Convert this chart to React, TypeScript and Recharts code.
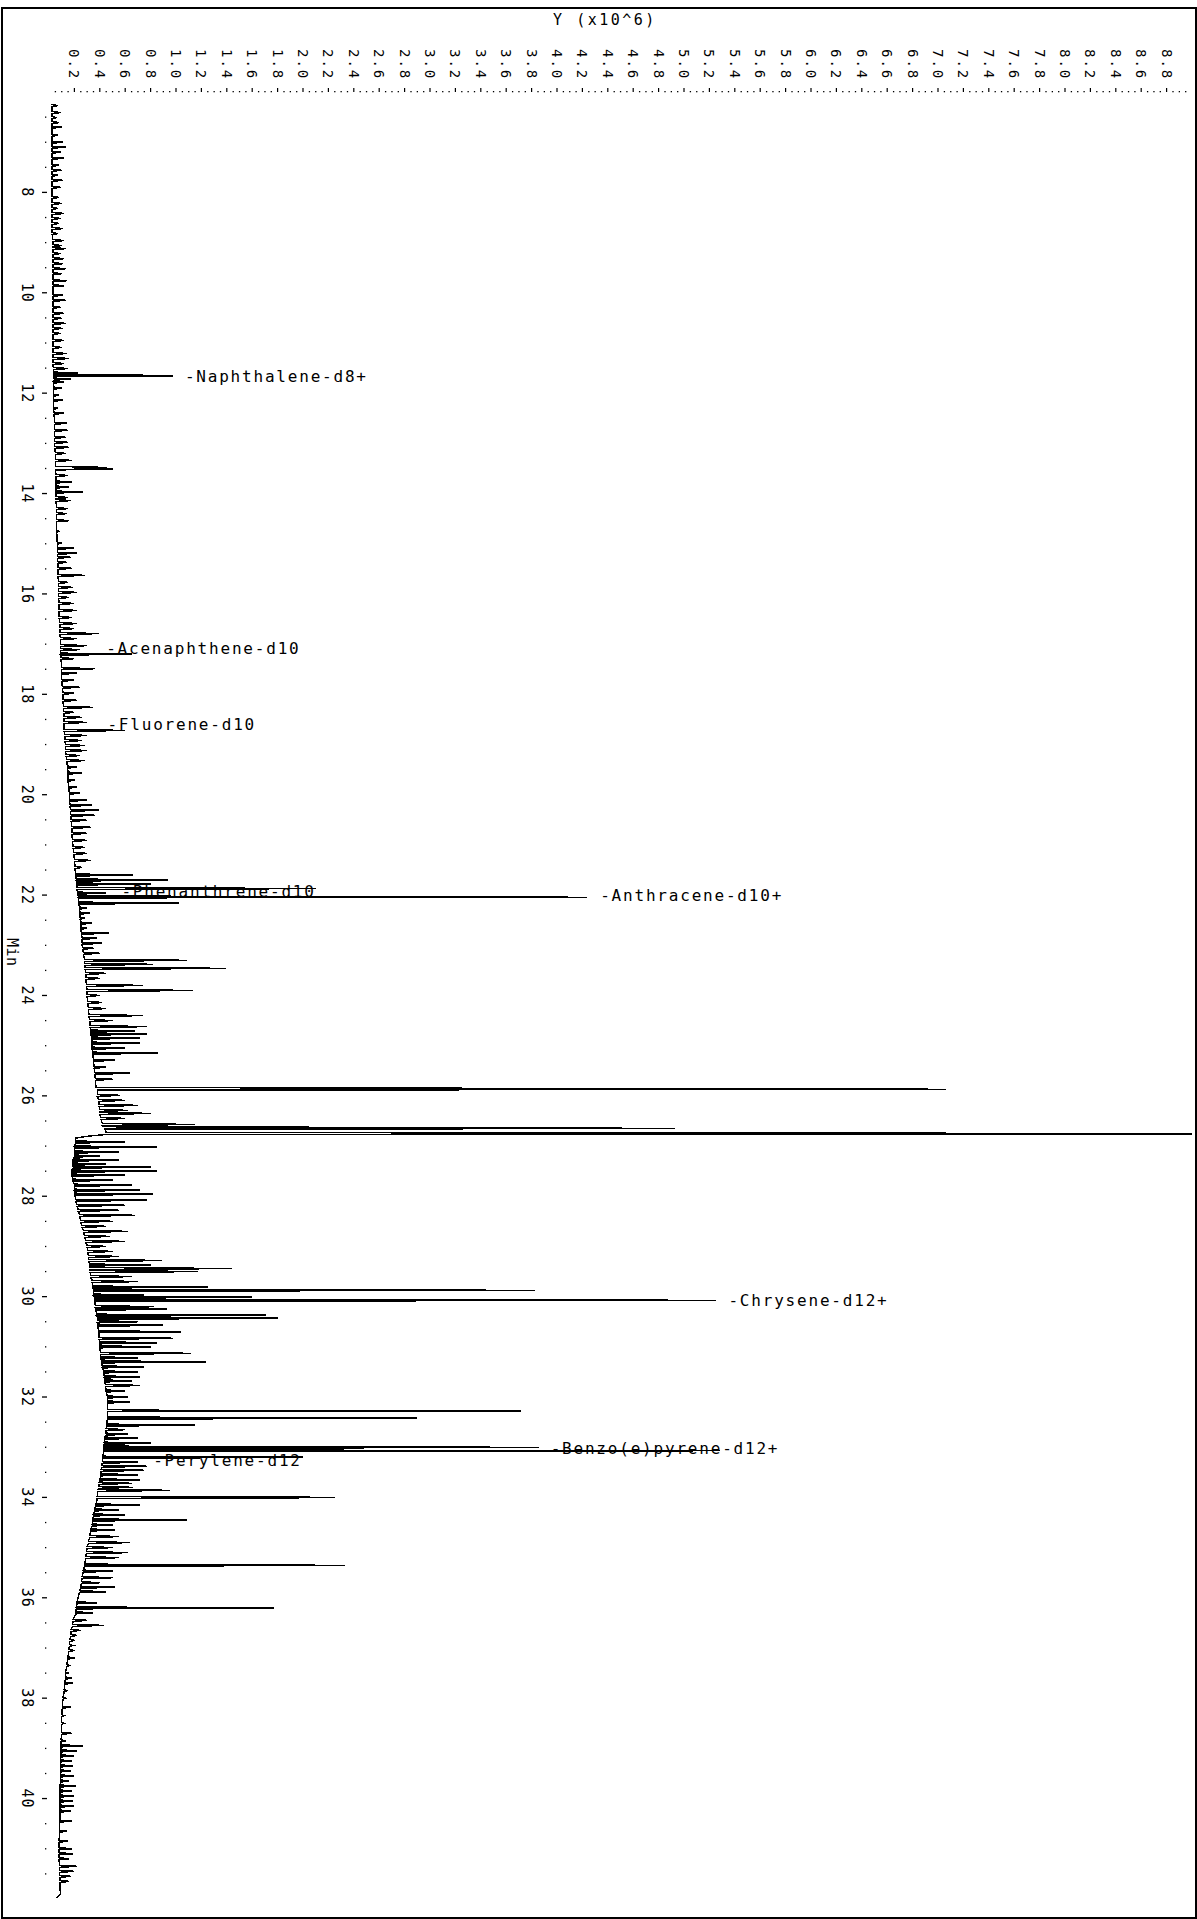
import { LineChart, Line, XAxis, YAxis, ReferenceDot } from "recharts";

// Chromatogram drawn sideways: retention time (Min) runs down, abundance (Y x10^6) runs across.
// Each pair is [minute, abundance x10^6].

const earlyTrace: [number, number][] = [
  [6.23, 0.025],
  [6.25, 0.025], [6.27, 0.07], [6.29, 0.025],
  [6.39, 0.025], [6.41, 0.09], [6.43, 0.025],
  [6.49, 0.025], [6.51, 0.06], [6.53, 0.025],
  [6.59, 0.025], [6.61, 0.08], [6.63, 0.025],
  [6.68, 0.025], [6.7, 0.1], [6.72, 0.025],
  [6.84, 0.025], [6.86, 0.07], [6.88, 0.025],
  [6.98, 0.025], [7.0, 0.11], [7.02, 0.025],
  [7.08, 0.025], [7.1, 0.13], [7.12, 0.025],
  [7.18, 0.025], [7.2, 0.09], [7.22, 0.025],
  [7.3, 0.025], [7.32, 0.12], [7.34, 0.025],
  [7.44, 0.025], [7.46, 0.08], [7.48, 0.025],
  [7.54, 0.025], [7.56, 0.1], [7.58, 0.025],
  [7.64, 0.025], [7.66, 0.07], [7.68, 0.025],
  [7.74, 0.025], [7.76, 0.11], [7.78, 0.025],
  [7.88, 0.025], [7.9, 0.09], [7.92, 0.025],
  [8.08, 0.025], [8.1, 0.08], [8.12, 0.025],
  [8.2, 0.025], [8.22, 0.1], [8.24, 0.025],
  [8.3, 0.025], [8.32, 0.07], [8.34, 0.025],
  [8.4, 0.025], [8.42, 0.12], [8.44, 0.025],
  [8.5, 0.025], [8.52, 0.09], [8.54, 0.025],
  [8.6, 0.025], [8.62, 0.08], [8.64, 0.025],
  [8.7, 0.025], [8.72, 0.11], [8.74, 0.025],
  [8.8, 0.025], [8.82, 0.07], [8.84, 0.025],
  [8.94, 0.03], [8.96, 0.12], [8.98, 0.03],
  [9.04, 0.03], [9.06, 0.1], [9.08, 0.03],
  [9.1, 0.03], [9.12, 0.13], [9.14, 0.03],
  [9.2, 0.03], [9.22, 0.09], [9.24, 0.03],
  [9.3, 0.03], [9.32, 0.12], [9.34, 0.03],
  [9.4, 0.03], [9.42, 0.11], [9.44, 0.03],
  [9.5, 0.03], [9.52, 0.13], [9.54, 0.03],
  [9.6, 0.03], [9.62, 0.1], [9.64, 0.03],
  [9.74, 0.03], [9.76, 0.14], [9.78, 0.03],
  [9.84, 0.03], [9.86, 0.12], [9.88, 0.03],
  [10.03, 0.03], [10.05, 0.11], [10.07, 0.03],
  [10.13, 0.03], [10.15, 0.13], [10.17, 0.03],
  [10.27, 0.03], [10.29, 0.09], [10.31, 0.03],
  [10.39, 0.03], [10.41, 0.12], [10.43, 0.03],
  [10.49, 0.03], [10.51, 0.1], [10.53, 0.03],
  [10.59, 0.03], [10.61, 0.13], [10.63, 0.03],
  [10.69, 0.03], [10.71, 0.11], [10.73, 0.03],
  [10.79, 0.03], [10.81, 0.09], [10.83, 0.03],
  [10.93, 0.03], [10.95, 0.12], [10.97, 0.03],
  [11.07, 0.03], [11.09, 0.1], [11.11, 0.03],
  [11.19, 0.03], [11.21, 0.14], [11.23, 0.03],
  [11.29, 0.03], [11.31, 0.16], [11.33, 0.03],
  [11.39, 0.03], [11.41, 0.12], [11.43, 0.03],
  [11.49, 0.035], [11.51, 0.15], [11.53, 0.035],
  [11.58, 0.035], [11.6, 0.23], [11.62, 0.035],
  [11.635, 0.035], [11.645, 0.87], [11.655, 0.98], [11.665, 0.04],
  [11.7, 0.04], [11.72, 0.17], [11.74, 0.04],
];

const lowBoilerTrace: [number, number][] = [
  [11.76, 0.035], [11.78, 0.12], [11.8, 0.035],
  [11.88, 0.035], [11.9, 0.1], [11.92, 0.035],
  [12.02, 0.035], [12.04, 0.08], [12.06, 0.035],
  [12.12, 0.035], [12.14, 0.11], [12.16, 0.035],
  [12.28, 0.035], [12.3, 0.07], [12.32, 0.035],
  [12.38, 0.04], [12.4, 0.12], [12.42, 0.04],
  [12.58, 0.045], [12.6, 0.14], [12.62, 0.045],
  [12.72, 0.045], [12.74, 0.15], [12.76, 0.045],
  [12.86, 0.045], [12.88, 0.13], [12.9, 0.045],
  [12.96, 0.045], [12.98, 0.15], [13.0, 0.045],
  [13.06, 0.045], [13.08, 0.16], [13.1, 0.045],
  [13.18, 0.05], [13.2, 0.13], [13.22, 0.05],
  [13.32, 0.05], [13.34, 0.18], [13.36, 0.05],
  [13.46, 0.05], [13.48, 0.46], [13.495, 0.2], [13.51, 0.5], [13.53, 0.05],
  [13.62, 0.055], [13.64, 0.15], [13.66, 0.055],
  [13.75, 0.055], [13.77, 0.18], [13.79, 0.055],
  [13.85, 0.055], [13.87, 0.16], [13.89, 0.055],
  [13.95, 0.055], [13.97, 0.27], [13.99, 0.055],
  [14.06, 0.055], [14.08, 0.15], [14.1, 0.055],
  [14.12, 0.055], [14.14, 0.17], [14.16, 0.055],
  [14.28, 0.06], [14.3, 0.15], [14.32, 0.06],
  [14.38, 0.06], [14.4, 0.14], [14.42, 0.06],
  [14.52, 0.06], [14.54, 0.16], [14.56, 0.06],
  [14.73, 0.06], [14.75, 0.08], [14.77, 0.06],
  [14.97, 0.065], [14.99, 0.1], [15.01, 0.065],
  [15.07, 0.065], [15.09, 0.2], [15.11, 0.065],
  [15.17, 0.065], [15.19, 0.22], [15.21, 0.065],
  [15.25, 0.065], [15.27, 0.17], [15.29, 0.065],
  [15.35, 0.07], [15.37, 0.14], [15.39, 0.07],
  [15.47, 0.07], [15.49, 0.18], [15.51, 0.07],
  [15.61, 0.07], [15.63, 0.28], [15.65, 0.07],
  [15.75, 0.075], [15.77, 0.15], [15.79, 0.075],
  [15.85, 0.075], [15.87, 0.19], [15.89, 0.075],
  [15.95, 0.075], [15.97, 0.22], [15.99, 0.075],
  [16.05, 0.075], [16.07, 0.16], [16.09, 0.075],
  [16.17, 0.08], [16.19, 0.2], [16.21, 0.08],
  [16.31, 0.08], [16.33, 0.22], [16.35, 0.08],
  [16.45, 0.08], [16.47, 0.18], [16.49, 0.08],
  [16.57, 0.085], [16.59, 0.22], [16.61, 0.085],
  [16.67, 0.085], [16.69, 0.2], [16.71, 0.085],
  [16.77, 0.085], [16.79, 0.39], [16.81, 0.085],
  [16.87, 0.09], [16.89, 0.22], [16.91, 0.09],
  [17.01, 0.09], [17.03, 0.3], [17.05, 0.09],
  [17.09, 0.09], [17.11, 0.24], [17.13, 0.09],
  [17.18, 0.09], [17.2, 0.65], [17.22, 0.09],
  [17.27, 0.095], [17.29, 0.2], [17.31, 0.095],
  [17.47, 0.1], [17.49, 0.36], [17.51, 0.1],
  [17.56, 0.1], [17.58, 0.22], [17.6, 0.1],
  [17.7, 0.1], [17.72, 0.2], [17.74, 0.1],
  [17.84, 0.105], [17.86, 0.24], [17.88, 0.105],
  [17.96, 0.11], [17.98, 0.2], [18.0, 0.11],
  [18.1, 0.11], [18.12, 0.22], [18.14, 0.11],
  [18.24, 0.115], [18.26, 0.35], [18.28, 0.115],
  [18.34, 0.115], [18.36, 0.2], [18.38, 0.115],
  [18.44, 0.12], [18.46, 0.26], [18.48, 0.12],
  [18.54, 0.12], [18.56, 0.3], [18.58, 0.12],
  [18.7, 0.12], [18.72, 0.6], [18.74, 0.12],
  [18.8, 0.125], [18.82, 0.3], [18.84, 0.125],
  [18.9, 0.125], [18.92, 0.26], [18.94, 0.125],
  [19.0, 0.13], [19.02, 0.28], [19.04, 0.13],
  [19.1, 0.13], [19.12, 0.3], [19.14, 0.13],
  [19.2, 0.135], [19.22, 0.24], [19.24, 0.135],
  [19.3, 0.14], [19.32, 0.28], [19.34, 0.14],
  [19.43, 0.145], [19.45, 0.22], [19.47, 0.145],
  [19.55, 0.15], [19.57, 0.26], [19.59, 0.15],
  [19.69, 0.15], [19.71, 0.2], [19.73, 0.15],
  [19.83, 0.155], [19.85, 0.22], [19.87, 0.155],
  [19.95, 0.16], [19.97, 0.24], [19.99, 0.16],
  [20.09, 0.16], [20.11, 0.3], [20.13, 0.16],
  [20.19, 0.165], [20.21, 0.34], [20.23, 0.165],
  [20.29, 0.17], [20.31, 0.39], [20.33, 0.17],
  [20.39, 0.17], [20.41, 0.36], [20.43, 0.17],
  [20.49, 0.175], [20.51, 0.3], [20.53, 0.175],
  [20.63, 0.18], [20.65, 0.33], [20.67, 0.18],
  [20.75, 0.18], [20.77, 0.3], [20.79, 0.18],
  [20.89, 0.185], [20.91, 0.3], [20.93, 0.185],
  [21.03, 0.19], [21.05, 0.28], [21.07, 0.19],
  [21.15, 0.195], [21.17, 0.3], [21.19, 0.195],
  [21.29, 0.2], [21.31, 0.33], [21.33, 0.2],
  [21.43, 0.205], [21.45, 0.26], [21.47, 0.205],
];

const midTrace: [number, number][] = [
  [21.58, 0.21], [21.6, 0.66], [21.62, 0.21],
  [21.68, 0.215], [21.7, 0.94], [21.72, 0.215],
  [21.76, 0.22], [21.78, 0.8], [21.8, 0.22],
  [21.85, 0.22], [21.87, 2.1], [21.89, 0.22],
  [21.94, 0.225], [21.96, 0.45], [21.98, 0.225],
  [22.02, 0.23], [22.035, 3.4], [22.045, 4.24], [22.055, 0.23],
  [22.14, 0.235], [22.16, 1.02], [22.18, 0.235],
  [22.24, 0.24], [22.26, 0.3], [22.28, 0.24],
  [22.34, 0.24], [22.36, 0.32], [22.38, 0.24],
  [22.44, 0.245], [22.46, 0.28], [22.48, 0.245],
  [22.54, 0.25], [22.56, 0.34], [22.58, 0.25],
  [22.64, 0.25], [22.66, 0.3], [22.68, 0.25],
  [22.74, 0.255], [22.76, 0.47], [22.78, 0.255],
  [22.84, 0.26], [22.86, 0.38], [22.88, 0.26],
  [22.94, 0.26], [22.96, 0.42], [22.98, 0.26],
  [23.04, 0.265], [23.06, 0.35], [23.08, 0.265],
  [23.14, 0.27], [23.16, 0.4], [23.18, 0.27],
  [23.28, 0.28], [23.3, 1.09], [23.32, 0.28],
  [23.36, 0.28], [23.38, 0.82], [23.4, 0.28],
  [23.44, 0.285], [23.46, 1.39], [23.48, 0.285],
  [23.54, 0.29], [23.56, 0.45], [23.58, 0.29],
  [23.64, 0.29], [23.66, 0.4], [23.68, 0.29],
  [23.78, 0.295], [23.8, 0.74], [23.82, 0.295],
  [23.88, 0.3], [23.9, 1.13], [23.92, 0.3],
  [23.98, 0.3], [24.0, 0.4], [24.02, 0.3],
  [24.12, 0.305], [24.14, 0.42], [24.16, 0.305],
  [24.24, 0.31], [24.26, 0.45], [24.28, 0.31],
  [24.38, 0.315], [24.4, 0.74], [24.42, 0.315],
  [24.48, 0.32], [24.5, 0.5], [24.52, 0.32],
  [24.6, 0.325], [24.62, 0.77], [24.64, 0.325],
  [24.69, 0.33], [24.71, 0.68], [24.73, 0.33],
  [24.75, 0.33], [24.77, 0.77], [24.79, 0.33],
  [24.83, 0.335], [24.85, 0.72], [24.87, 0.335],
  [24.93, 0.34], [24.95, 0.72], [24.97, 0.34],
  [25.03, 0.34], [25.05, 0.6], [25.07, 0.34],
  [25.13, 0.345], [25.15, 0.86], [25.17, 0.345],
  [25.27, 0.35], [25.29, 0.52], [25.31, 0.35],
  [25.41, 0.355], [25.43, 0.45], [25.45, 0.355],
  [25.53, 0.36], [25.55, 0.64], [25.57, 0.36],
  [25.65, 0.365], [25.67, 0.5], [25.69, 0.365],
  [25.83, 0.37], [25.845, 2.35], [25.86, 6.17], [25.87, 7.06], [25.885, 0.38],
  [25.97, 0.38], [25.99, 0.56], [26.01, 0.38],
  [26.07, 0.39], [26.09, 0.6], [26.11, 0.39],
  [26.17, 0.395], [26.19, 0.7], [26.21, 0.395],
  [26.27, 0.4], [26.29, 0.62], [26.31, 0.4],
  [26.33, 0.4], [26.35, 0.8], [26.37, 0.4],
  [26.43, 0.41], [26.45, 0.6], [26.47, 0.41],
  [26.55, 0.42], [26.57, 1.15], [26.59, 0.42],
  [26.615, 0.43], [26.635, 3.5], [26.65, 4.93], [26.665, 0.44],
  [26.73, 0.45], [26.745, 7.06], [26.755, 9.6], [26.77, 0.45],
  [26.8, 0.32], [26.84, 0.21],
];

const highBoilerTrace: [number, number][] = [
  [26.9, 0.21], [26.92, 0.6], [26.94, 0.21],
  [27.0, 0.2], [27.02, 0.85], [27.04, 0.2],
  [27.1, 0.2], [27.12, 0.55], [27.14, 0.2],
  [27.18, 0.2], [27.2, 0.4], [27.22, 0.2],
  [27.26, 0.19], [27.28, 0.55], [27.3, 0.19],
  [27.34, 0.19], [27.36, 0.45], [27.38, 0.19],
  [27.4, 0.19], [27.42, 0.8], [27.44, 0.19],
  [27.48, 0.18], [27.5, 0.85], [27.52, 0.18],
  [27.56, 0.18], [27.58, 0.6], [27.6, 0.18],
  [27.66, 0.19], [27.68, 0.5], [27.7, 0.19],
  [27.76, 0.2], [27.78, 0.65], [27.8, 0.2],
  [27.86, 0.2], [27.88, 0.72], [27.9, 0.2],
  [27.94, 0.205], [27.96, 0.82], [27.98, 0.205],
  [28.06, 0.21], [28.08, 0.77], [28.1, 0.21],
  [28.16, 0.22], [28.18, 0.6], [28.2, 0.22],
  [28.26, 0.23], [28.28, 0.55], [28.3, 0.23],
  [28.36, 0.24], [28.38, 0.68], [28.4, 0.24],
  [28.48, 0.25], [28.5, 0.5], [28.52, 0.25],
  [28.58, 0.26], [28.6, 0.45], [28.62, 0.26],
  [28.68, 0.27], [28.7, 0.62], [28.72, 0.27],
  [28.78, 0.28], [28.8, 0.48], [28.82, 0.28],
  [28.88, 0.29], [28.9, 0.6], [28.92, 0.29],
  [28.98, 0.3], [29.0, 0.45], [29.02, 0.3],
  [29.08, 0.305], [29.1, 0.5], [29.12, 0.305],
  [29.18, 0.31], [29.2, 0.55], [29.22, 0.31],
  [29.26, 0.315], [29.28, 0.89], [29.3, 0.315],
  [29.35, 0.32], [29.37, 0.8], [29.39, 0.32],
  [29.42, 0.32], [29.44, 1.44], [29.46, 0.32],
  [29.48, 0.325], [29.5, 1.17], [29.52, 0.325],
  [29.58, 0.33], [29.6, 0.65], [29.62, 0.33],
  [29.68, 0.34], [29.7, 0.7], [29.72, 0.34],
  [29.79, 0.345], [29.81, 1.25], [29.83, 0.345],
  [29.85, 0.35], [29.865, 1.8], [29.875, 3.83], [29.89, 0.35],
  [29.95, 0.355], [29.97, 0.75], [29.99, 0.355],
  [30.0, 0.36], [30.01, 1.6], [30.03, 0.36],
  [30.05, 0.36], [30.065, 3.9], [30.075, 5.25], [30.09, 0.36],
  [30.18, 0.365], [30.2, 0.83], [30.22, 0.365],
  [30.23, 0.37], [30.25, 0.93], [30.27, 0.37],
  [30.35, 0.375], [30.37, 1.71], [30.39, 0.375],
  [30.41, 0.38], [30.43, 1.8], [30.45, 0.38],
  [30.48, 0.38], [30.5, 0.7], [30.52, 0.38],
  [30.55, 0.385], [30.57, 0.9], [30.59, 0.385],
  [30.68, 0.39], [30.7, 1.04], [30.72, 0.39],
  [30.81, 0.395], [30.83, 0.98], [30.85, 0.395],
  [30.9, 0.4], [30.92, 0.85], [30.94, 0.4],
  [30.98, 0.4], [31.0, 0.8], [31.02, 0.4],
  [31.11, 0.405], [31.13, 1.12], [31.15, 0.405],
  [31.2, 0.41], [31.22, 0.7], [31.24, 0.41],
  [31.28, 0.415], [31.3, 1.24], [31.32, 0.415],
  [31.38, 0.42], [31.4, 0.75], [31.42, 0.42],
  [31.48, 0.43], [31.5, 0.7], [31.52, 0.43],
  [31.58, 0.435], [31.6, 0.72], [31.62, 0.435],
  [31.66, 0.44], [31.68, 0.65], [31.7, 0.44],
  [31.75, 0.445], [31.77, 0.72], [31.79, 0.445],
  [31.86, 0.45], [31.88, 0.6], [31.9, 0.45],
  [31.98, 0.46], [32.0, 0.62], [32.02, 0.46],
  [32.08, 0.46], [32.1, 0.64], [32.12, 0.46],
  [32.25, 0.46], [32.265, 0.9], [32.275, 3.72], [32.29, 0.46],
  [32.4, 0.46], [32.42, 2.9], [32.44, 0.46],
  [32.54, 0.455], [32.56, 1.15], [32.58, 0.455],
  [32.63, 0.45], [32.65, 0.6], [32.67, 0.45],
  [32.72, 0.45], [32.74, 0.62], [32.76, 0.45],
  [32.8, 0.44], [32.82, 0.7], [32.84, 0.44],
  [32.9, 0.435], [32.92, 0.8], [32.94, 0.435],
  [32.98, 0.43], [32.995, 2.89], [33.005, 3.86], [33.02, 0.43],
  [33.055, 0.43], [33.07, 5.28], [33.085, 0.43],
  [33.18, 0.425], [33.2, 2.0], [33.22, 0.425],
  [33.28, 0.42], [33.3, 0.7], [33.32, 0.42],
  [33.36, 0.415], [33.38, 0.77], [33.4, 0.415],
  [33.44, 0.41], [33.46, 0.75], [33.48, 0.41],
  [33.53, 0.41], [33.55, 0.7], [33.57, 0.41],
  [33.63, 0.4], [33.65, 0.72], [33.67, 0.4],
  [33.7, 0.395], [33.72, 0.65], [33.74, 0.395],
  [33.78, 0.39], [33.8, 0.66], [33.82, 0.39],
  [33.84, 0.385], [33.86, 0.95], [33.88, 0.385],
  [33.98, 0.38], [33.995, 2.0], [34.005, 2.25], [34.02, 0.38],
  [34.13, 0.37], [34.15, 0.72], [34.17, 0.37],
  [34.23, 0.36], [34.25, 0.55], [34.27, 0.36],
  [34.33, 0.35], [34.35, 0.6], [34.37, 0.35],
  [34.43, 0.345], [34.45, 1.09], [34.47, 0.345],
  [34.53, 0.34], [34.55, 0.5], [34.57, 0.34],
  [34.63, 0.33], [34.65, 0.52], [34.67, 0.33],
  [34.76, 0.32], [34.78, 0.55], [34.8, 0.32],
  [34.88, 0.31], [34.9, 0.64], [34.92, 0.31],
  [34.98, 0.3], [35.0, 0.5], [35.02, 0.3],
  [35.08, 0.295], [35.1, 0.62], [35.12, 0.295],
  [35.18, 0.29], [35.2, 0.55], [35.22, 0.29],
  [35.33, 0.28], [35.345, 1.55], [35.355, 2.33], [35.37, 0.28],
  [35.45, 0.27], [35.47, 0.5], [35.49, 0.27],
  [35.58, 0.26], [35.6, 0.5], [35.62, 0.26],
  [35.68, 0.255], [35.7, 0.4], [35.72, 0.255],
  [35.77, 0.25], [35.79, 0.52], [35.81, 0.25],
  [35.86, 0.24], [35.88, 0.45], [35.9, 0.24],
];

const tailTrace: [number, number][] = [
  [36.08, 0.22], [36.1, 0.38], [36.12, 0.22],
  [36.18, 0.215], [36.195, 0.9], [36.205, 1.77], [36.22, 0.215],
  [36.28, 0.21], [36.3, 0.35], [36.32, 0.21],
  [36.43, 0.19], [36.45, 0.3], [36.47, 0.19],
  [36.53, 0.185], [36.55, 0.43], [36.57, 0.185],
  [36.63, 0.175], [36.65, 0.25], [36.67, 0.175],
  [36.73, 0.17], [36.75, 0.22], [36.77, 0.17],
  [36.83, 0.165], [36.85, 0.2], [36.87, 0.165],
  [36.93, 0.16], [36.95, 0.19], [36.97, 0.16],
  [37.03, 0.155], [37.05, 0.2], [37.07, 0.155],
  [37.18, 0.15], [37.2, 0.2], [37.22, 0.15],
  [37.33, 0.14], [37.35, 0.16], [37.37, 0.14],
  [37.48, 0.13], [37.5, 0.15], [37.52, 0.13],
  [37.58, 0.13], [37.6, 0.18], [37.62, 0.13],
  [37.68, 0.125], [37.7, 0.19], [37.72, 0.125],
  [37.83, 0.12], [37.85, 0.14], [37.87, 0.12],
  [37.98, 0.11], [38.0, 0.13], [38.02, 0.11],
  [38.16, 0.105], [38.18, 0.17], [38.2, 0.105],
  [38.33, 0.1], [38.35, 0.12], [38.37, 0.1],
  [38.48, 0.1], [38.5, 0.12], [38.52, 0.1],
  [38.68, 0.1], [38.7, 0.18], [38.72, 0.1],
  [38.83, 0.095], [38.85, 0.13], [38.87, 0.095],
  [38.93, 0.095], [38.95, 0.27], [38.97, 0.095],
  [39.03, 0.095], [39.05, 0.22], [39.07, 0.095],
  [39.13, 0.095], [39.15, 0.2], [39.17, 0.095],
  [39.23, 0.09], [39.25, 0.18], [39.27, 0.09],
  [39.33, 0.09], [39.35, 0.19], [39.37, 0.09],
  [39.43, 0.09], [39.45, 0.17], [39.47, 0.09],
  [39.53, 0.09], [39.55, 0.2], [39.57, 0.09],
  [39.63, 0.09], [39.65, 0.16], [39.67, 0.09],
  [39.73, 0.088], [39.75, 0.21], [39.77, 0.088],
  [39.83, 0.088], [39.85, 0.18], [39.87, 0.088],
  [39.93, 0.087], [39.95, 0.2], [39.97, 0.087],
  [40.03, 0.087], [40.05, 0.19], [40.07, 0.087],
  [40.13, 0.086], [40.15, 0.2], [40.17, 0.086],
  [40.23, 0.085], [40.25, 0.17], [40.27, 0.085],
  [40.43, 0.085], [40.45, 0.18], [40.47, 0.085],
  [40.63, 0.083], [40.65, 0.14], [40.67, 0.083],
  [40.83, 0.08], [40.85, 0.15], [40.87, 0.08],
  [40.98, 0.08], [41.0, 0.18], [41.02, 0.08],
  [41.08, 0.08], [41.1, 0.19], [41.12, 0.08],
  [41.18, 0.08], [41.2, 0.16], [41.22, 0.08],
  [41.33, 0.082], [41.35, 0.22], [41.37, 0.082],
  [41.43, 0.083], [41.45, 0.2], [41.47, 0.083],
  [41.53, 0.085], [41.55, 0.17], [41.57, 0.085],
  [41.63, 0.085], [41.65, 0.16], [41.67, 0.085],
  [41.9, 0.09], [41.98, 0.06],
];

// compound labels, placed where the software printed them
const peakNames = [
  "-Naphthalene-d8+",
  "-Acenaphthene-d10",
  "-Fluorene-d10",
  "-Phenanthrene-d10",
  "-Anthracene-d10+",
  "-Chrysene-d12+",
  "-Benzo(e)pyrene-d12+",
  "-Perylene-d12",
];
const peakLabelMinutes = [11.66, 17.09, 18.61, 21.92, 22.01, 30.07, 33.02, 33.26];
const peakLabelAbundance = [1.07, 0.45, 0.46, 0.57, 4.34, 5.35, 3.95, 0.82];

// dotted scale every 0.05, labelled every 0.2 up to 8.8
const abundanceTicks = Array.from({ length: 179 }, (_, i) => (i + 1) / 20);
const LAST_LABELLED_STEP = 176;
const minuteTicks = Array.from({ length: 71 }, (_, i) => (i + 13) / 2);

const FONT = "'DejaVu Sans Mono', 'Liberation Mono', monospace";

const trace = [...earlyTrace, ...lowBoilerTrace, ...midTrace, ...highBoilerTrace, ...tailTrace].map(
  ([minute, abundance]) => ({ minute, abundance })
);

// axis line sits at y = 92 (top) and x = 49 (left)
const AXIS_TOP = 92;
const AXIS_LEFT = 49;

function AbundanceTick(props: any) {
  const { x, payload } = props;
  const step = Math.round(payload.value * 20);
  if (step % 4 !== 0 || step > LAST_LABELLED_STEP) {
    return <rect x={x - 0.6} y={AXIS_TOP - 1} width={1.3} height={1.3} fill="#000" />;
  }
  return (
    <g>
      <line x1={x} x2={x} y1={AXIS_TOP} y2={AXIS_TOP - 4} stroke="#000" strokeWidth={1.2} />
      <text
        transform={`translate(${x}, ${AXIS_TOP - 43}) rotate(90)`}
        fontFamily={FONT}
        fontSize={14}
        letterSpacing={2}
        dominantBaseline="central"
        fill="#000"
      >
        {(step / 20).toFixed(1)}
      </text>
    </g>
  );
}

function MinuteTick(props: any) {
  const { y, payload } = props;
  const v = payload.value;
  if (v % 2 !== 0) {
    return <rect x={AXIS_LEFT - 4} y={y - 0.6} width={1.3} height={1.3} fill="#000" />;
  }
  return (
    <g>
      <line x1={AXIS_LEFT - 7} x2={AXIS_LEFT - 2} y1={y} y2={y} stroke="#000" strokeWidth={1.3} />
      <text
        transform={`translate(${AXIS_LEFT - 22}, ${y}) rotate(90)`}
        fontFamily={FONT}
        fontSize={15}
        letterSpacing={1}
        textAnchor="middle"
        dominantBaseline="central"
        fill="#000"
      >
        {v}
      </text>
    </g>
  );
}

function PeakLabel({ cx, cy, name }: any) {
  return (
    <text x={cx} y={cy} fontFamily={FONT} fontSize={16} letterSpacing={1.8} dominantBaseline="central" fill="#000">
      {name}
    </text>
  );
}

export default function App() {
  return (
    <div style={{ position: "absolute", left: 0, top: 0, width: 1197, height: 1919, background: "#fff" }}>
      <LineChart
        width={1197}
        height={1919}
        layout="vertical"
        data={trace}
        margin={{ top: 48, right: 5, bottom: 5, left: 19 }}
      >
        <XAxis
          type="number"
          orientation="top"
          domain={[0, 9]}
          allowDataOverflow
          ticks={abundanceTicks}
          interval={0}
          height={44}
          tickSize={0}
          axisLine={false}
          tickLine={false}
          tick={AbundanceTick}
        />
        <YAxis
          type="number"
          dataKey="minute"
          domain={[6, 42.3]}
          allowDataOverflow
          ticks={minuteTicks}
          interval={0}
          width={30}
          tickSize={0}
          axisLine={false}
          tickLine={false}
          tick={MinuteTick}
        />
        <Line
          dataKey="abundance"
          type="linear"
          stroke="#000"
          strokeWidth={1.5}
          shapeRendering="crispEdges"
          dot={false}
          isAnimationActive={false}
        />
        {peakNames.map((name, i) => (
          <ReferenceDot
            key={name}
            x={peakLabelAbundance[i]}
            y={peakLabelMinutes[i]}
            r={0}
            shape={(props: any) => <PeakLabel {...props} name={name} />}
          />
        ))}
      </LineChart>
      <div
        style={{
          position: "absolute",
          left: 0,
          width: 1210,
          top: 11,
          textAlign: "center",
          fontFamily: FONT,
          fontSize: 15,
          letterSpacing: 2.5,
        }}
      >
        Y (x10^6)
      </div>
      <div
        style={{
          position: "absolute",
          left: 3,
          top: 938,
          writingMode: "vertical-rl",
          fontFamily: FONT,
          fontSize: 15,
          letterSpacing: 0.5,
        }}
      >
        Min
      </div>
      <div
        style={{
          position: "absolute",
          left: 1,
          top: 7,
          width: 1196,
          height: 1912,
          border: "2px solid #000",
          boxSizing: "border-box",
          pointerEvents: "none",
        }}
      />
    </div>
  );
}
